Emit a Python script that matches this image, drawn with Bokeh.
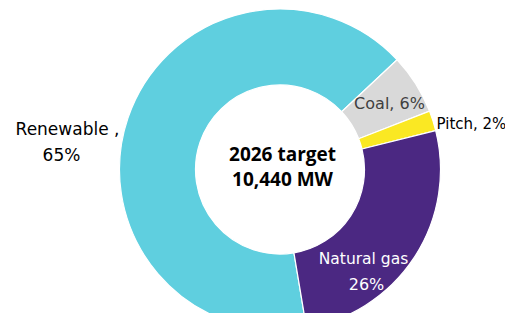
import math
from bokeh.plotting import figure
from bokeh.models import ColumnDataSource, Range1d
from bokeh.core.properties import value
from bokeh.embed import file_html
from bokeh.resources import INLINE

# ---- data ----
categories = ["Renewable", "Coal", "Pitch", "Natural gas"]
shares = [65, 6, 2, 26]
colors = ["#5FCFDF", "#D9D9D9", "#FAE823", "#4B2882"]
center_lines = ["2026 target", "10,440 MW"]

W, H = 505, 313
p = figure(width=W, height=H, output_backend="svg", toolbar_location=None,
           x_range=Range1d(0, W), y_range=Range1d(0, H), min_border=0)
p.axis.visible = False
p.grid.visible = False
p.outline_line_color = None
p.background_fill_color = "white"
p.border_fill_color = "white"

cx, cy = 279.5, 144.0
r_in, r_out = 84.5, 160.5
first_angle = math.radians(-80.5)

total = float(sum(shares))
bounds = [first_angle]
for s in shares:
    bounds.append(bounds[-1] - 2 * math.pi * s / total)
src = ColumnDataSource(dict(
    cat=categories, share=shares, color=colors,
    start=[bounds[i + 1] for i in range(len(shares))],
    end=[bounds[i] for i in range(len(shares))],
))
p.annular_wedge(x=cx, y=cy, inner_radius=r_in, outer_radius=r_out,
                start_angle="start", end_angle="end", fill_color="color",
                line_color="white", line_width=1.2, source=src)

lab_font = value("DejaVu Sans")
# Renewable label
p.text(x=[67], y=[185], text=[f"{categories[0]} ,"], text_font=lab_font,
       text_font_size="17px", text_color="#000000", text_align="center",
       text_baseline="alphabetic")
p.text(x=[61], y=[159], text=[f"{shares[0]}%"], text_font=lab_font,
       text_font_size="17px", text_color="#000000", text_align="center",
       text_baseline="alphabetic")
# Coal label
p.text(x=[389], y=[210], text=[f"{categories[1]}, {shares[1]}%"], text_font=lab_font,
       text_font_size="16px", text_color="#404040", text_align="center",
       text_baseline="alphabetic")
# Pitch label
p.text(x=[436], y=[190], text=[f"{categories[2]}, {shares[2]}%"], text_font=lab_font,
       text_font_size="15px", text_color="#000000", text_align="left",
       text_baseline="alphabetic")
# Natural gas label
p.text(x=[363], y=[55], text=[categories[3]], text_font=lab_font,
       text_font_size="15.5px", text_color="#FFFFFF", text_align="center",
       text_baseline="alphabetic")
p.text(x=[366], y=[29], text=[f"{shares[3]}%"], text_font=lab_font,
       text_font_size="16px", text_color="#FFFFFF", text_align="center",
       text_baseline="alphabetic")
# Center text
p.text(x=[282, 282], y=[160, 135], text=center_lines, text_font=value("Open Sans"),
       text_font_style="bold", text_font_size="19px", text_color="#000000",
       text_align="center", text_baseline="alphabetic")

open("out.html", "w").write(file_html(p, INLINE))
